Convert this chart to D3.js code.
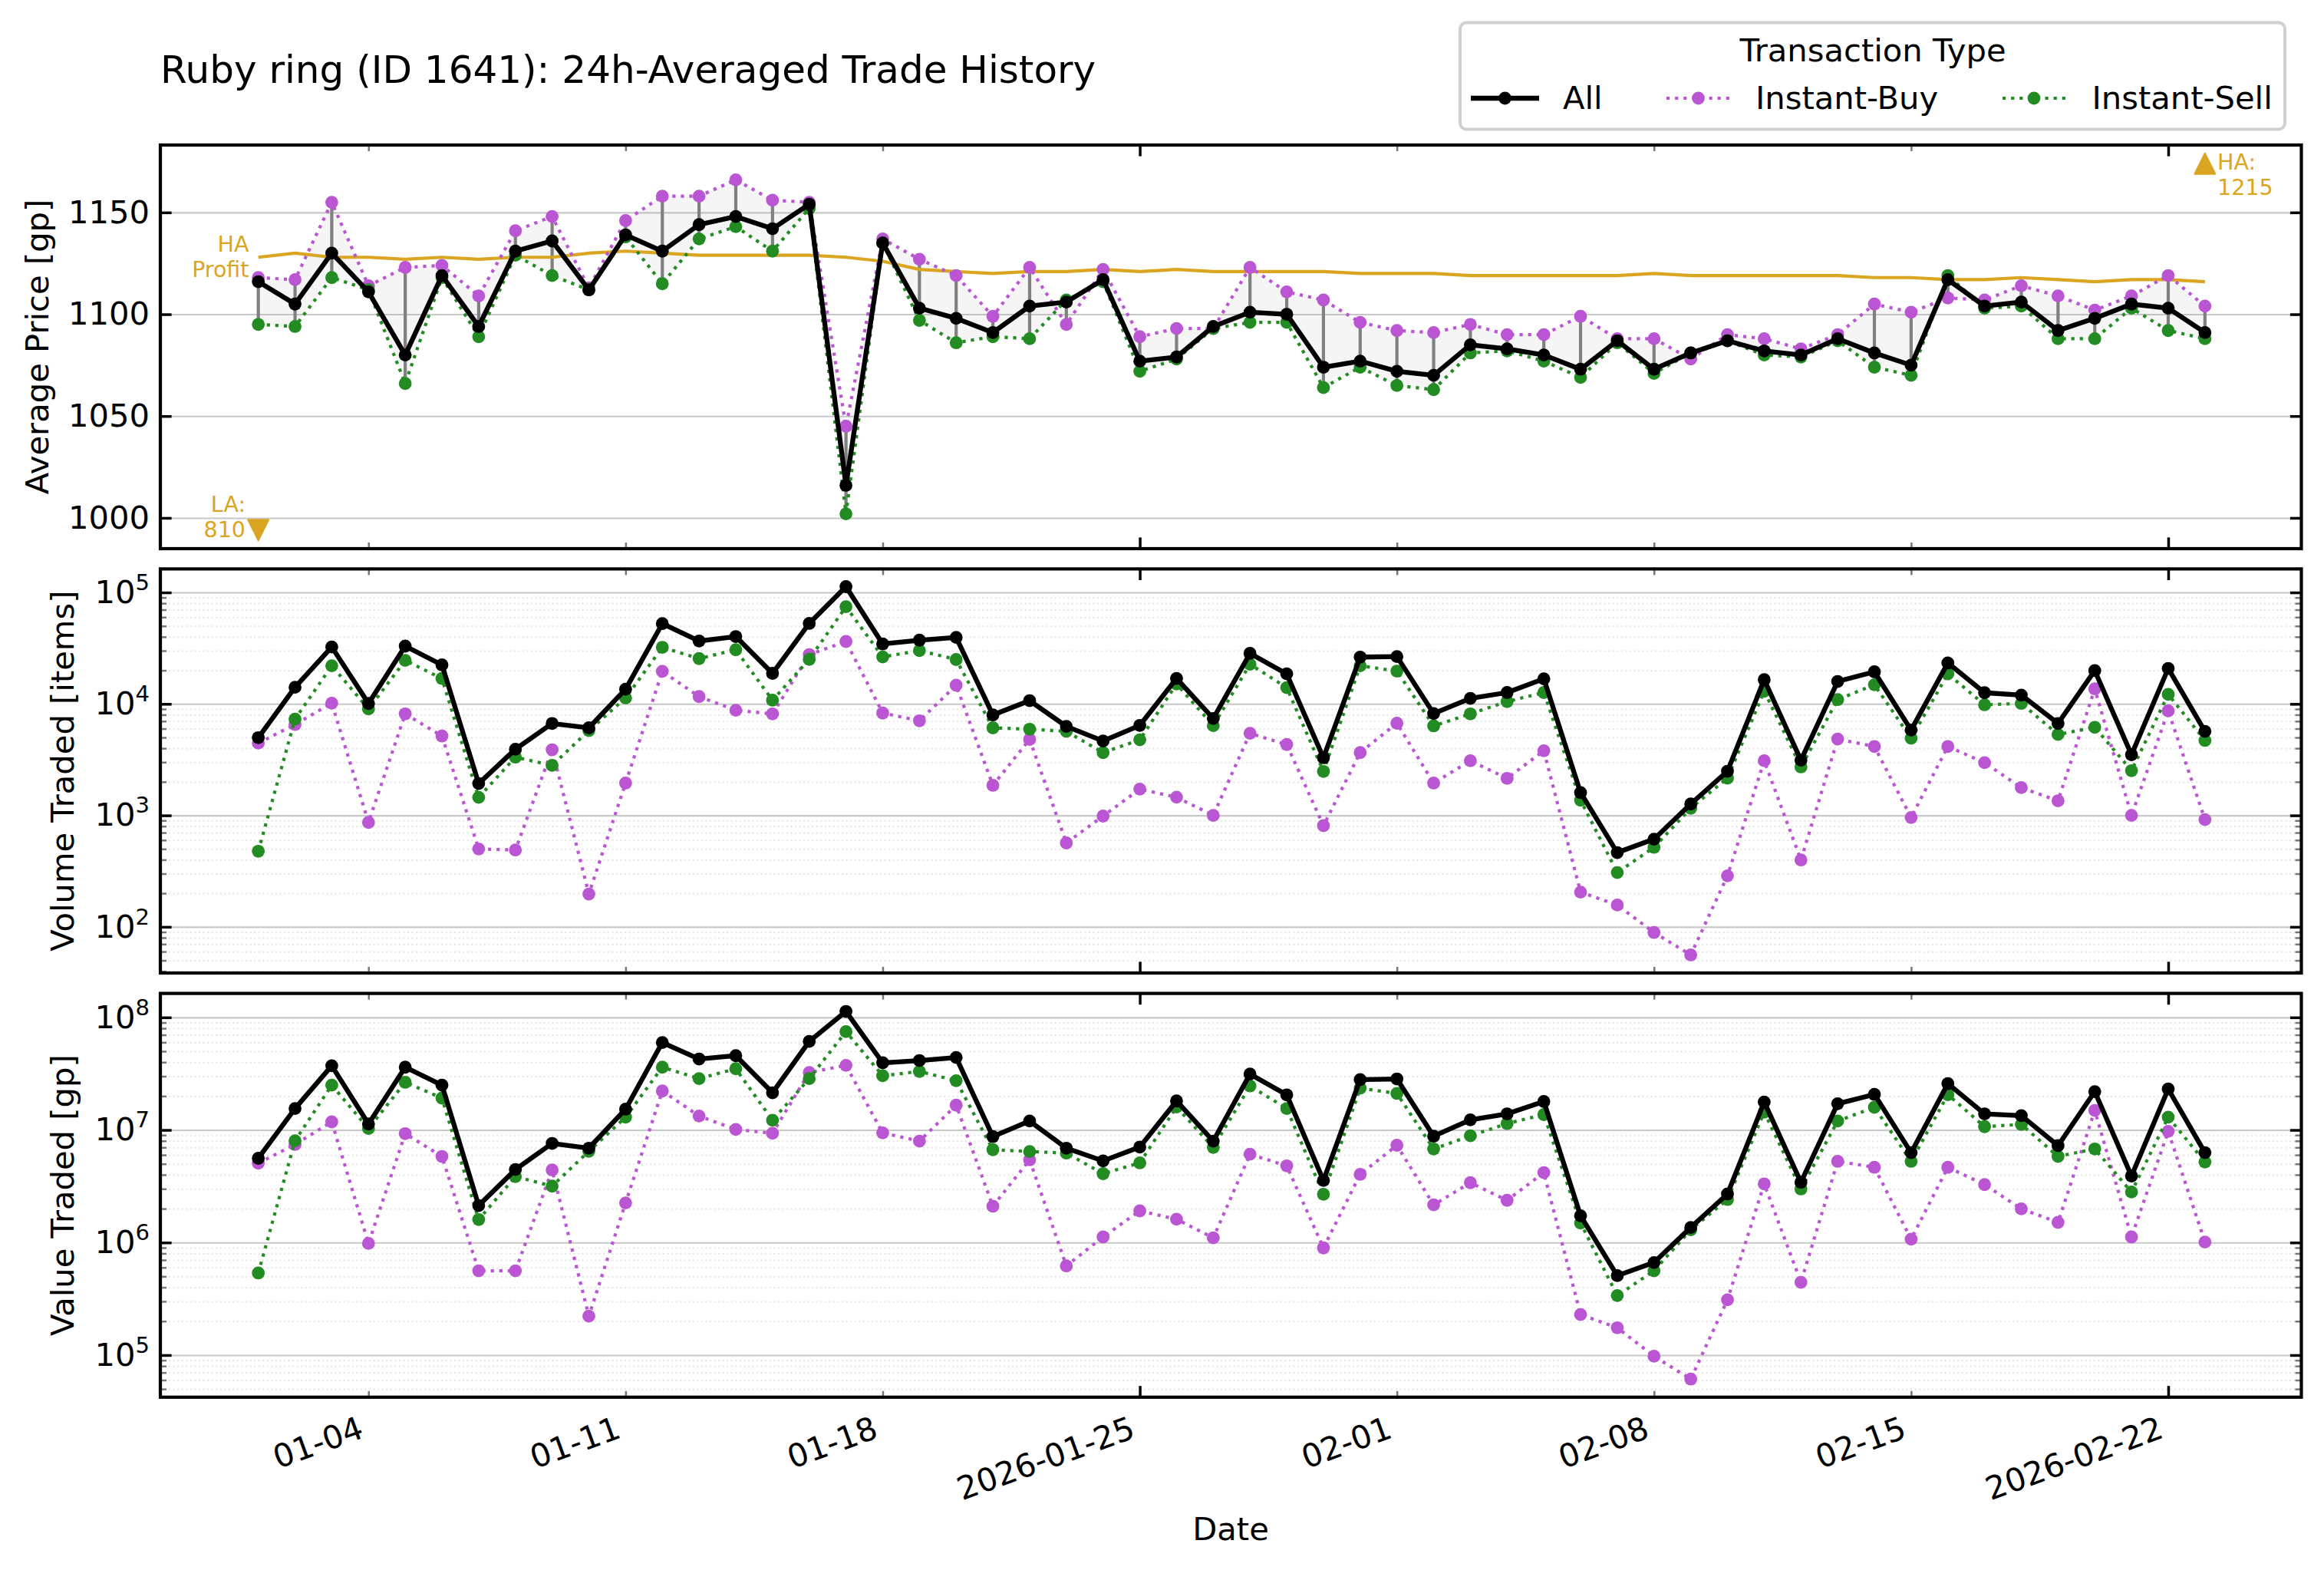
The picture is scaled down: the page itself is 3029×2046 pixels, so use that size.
<!DOCTYPE html>
<html>
<head>
<meta charset="utf-8">
<script src="https://cdn.jsdelivr.net/npm/d3@7"></script>
<style>
  html, body { margin: 0; padding: 0; background: #fff; }
  text { font-family: "DejaVu Sans", sans-serif; fill: #000; }
</style>
</head>
<body>
<svg id="chart" width="3029" height="2046"></svg>
<script>
const startDate = "2026-01-01";
const endDate = "2026-02-23";
const parseDay = d3.utcParse("%Y-%m-%d");

// every value below is one per day, 01-01 to 02-23
const priceAll = [1116,1105,1130,1111,1080,1119,1094,1131,1136,1112,1139,1131,1144,1148,1142,1154,1016,
  1135,1103,1098,1091,1104,1106,1117,1077,1079,1094,1101,1100,1074,1077,1072,1070,1085,1083,1080,
  1073,1087,1073,1081,1087,1082,1080,1088,1081,1075,1117,1104,1106,1092,1098,1105,1103,1091];
const priceBuy = [1118,1117,1155,1114,1123,1124,1109,1141,1148,1113,1146,1158,1158,1166,1156,1155,1045,
  1137,1127,1119,1099,1123,1095,1122,1089,1093,1093,1123,1111,1107,1096,1092,1091,1095,1090,1090,
  1099,1088,1088,1078,1090,1088,1083,1090,1105,1101,1108,1107,1114,1109,1102,1109,1119,1104];
const priceSell = [1095,1094,1118,1112,1066,1118,1089,1129,1119,1112,1138,1115,1137,1143,1131,1152,1002,
  1135,1097,1086,1089,1088,1107,1116,1072,1078,1093,1096,1096,1064,1074,1065,1063,1081,1082,1077,
  1069,1086,1071,1081,1087,1080,1079,1087,1074,1070,1119,1103,1104,1088,1088,1103,1092,1088];
const haProfit = [1128,1130,1128,1128,1127,1128,1127,1128,1128,1130,1131,1130,1129,1129,1129,1129,1128,
  1126,1122,1121,1120,1121,1121,1122,1121,1122,1121,1121,1121,1121,1120,1120,1120,1119,1119,1119,
  1119,1119,1120,1119,1119,1119,1119,1119,1118,1118,1117,1117,1118,1117,1116,1117,1117,1116];

const volumeAll = [4980,14100,32400,10090,33000,22400,1930,3920,6680,6100,13550,52500,36700,40200,18800,52700,112700,
  34500,37300,39500,7960,10700,6280,4650,6420,16900,7400,28400,18600,3290,26300,26600,8190,11200,12650,16800,
  1600,464,612,1265,2490,16500,3130,15900,19400,5830,23300,12600,12000,6680,19900,3500,20800,5670];
const volumeBuy = [4450,6530,10160,865,8140,5150,500,489,3880,197,1950,19600,11640,8770,8140,27700,36300,
  8280,7060,14700,1860,4810,566,986,1720,1455,1000,5450,4320,809,3660,6710,1950,3090,2150,3800,
  205,157,89,56,287,3090,398,4840,4150,957,4150,2970,1775,1352,13650,1000,8660,916];
const volumeSell = [477,7310,22000,9010,24550,16900,1450,3330,2810,5770,11300,32200,25500,30600,10800,25100,74500,
  26400,30100,25000,6100,5930,5670,3660,4760,15100,6380,22700,14000,2480,22000,19700,6350,8140,10500,12650,
  1368,307,517,1160,2160,13000,2720,10930,14850,4920,18600,9820,10100,5320,6170,2520,12170,4700];

const valueAll = [5.6e6,1.55e7,3.72e7,1.13e7,3.61e7,2.5e7,2.13e6,4.45e6,7.6e6,6.89e6,1.53e7,5.98e7,4.27e7,4.57e7,2.14e7,6.12e7,1.13e8,
  3.95e7,4.14e7,4.4e7,8.73e6,1.2e7,6.89e6,5.31e6,7.05e6,1.81e7,7.96e6,3.14e7,2.05e7,3.56e6,2.8e7,2.84e7,8.8e6,1.23e7,1.39e7,1.79e7,
  1.73e6,5.08e5,6.64e5,1.36e6,2.7e6,1.77e7,3.43e6,1.71e7,2.07e7,6.28e6,2.58e7,1.39e7,1.34e7,7.26e6,2.19e7,3.9e6,2.31e7,6.28e6];
const valueBuy = [5.07e6,7.43e6,1.18e7,9.82e5,9.28e6,5.82e6,5.61e5,5.61e5,4.41e6,2.22e5,2.25e6,2.22e7,1.33e7,1.01e7,9.35e6,3.24e7,3.75e7,
  9.42e6,7.96e6,1.66e7,2.1e6,5.43e6,6.2e5,1.12e6,1.91e6,1.61e6,1.1e6,6.09e6,4.8e6,8.96e5,4.03e6,7.31e6,2.16e6,3.4e6,2.37e6,4.18e6,
  2.29e5,1.75e5,9.77e4,6.12e4,3.1e5,3.32e6,4.43e5,5.26e6,4.66e6,1.07e6,4.66e6,3.27e6,1.99e6,1.51e6,1.49e7,1.12e6,9.72e6,1.01e6];
const valueSell = [5.36e5,8.02e6,2.5e7,1.03e7,2.65e7,1.92e7,1.6e6,3.85e6,3.17e6,6.47e6,1.3e7,3.61e7,2.86e7,3.5e7,1.22e7,2.86e7,7.47e7,
  3.03e7,3.31e7,2.74e7,6.68e6,6.43e6,6.23e6,4.09e6,5.1e6,1.6e7,6.99e6,2.46e7,1.55e7,2.68e6,2.35e7,2.11e7,6.78e6,8.87e6,1.14e7,1.37e7,
  1.49e6,3.38e5,5.61e5,1.3e6,2.41e6,1.44e7,2.99e6,1.2e7,1.59e7,5.26e6,2.06e7,1.07e7,1.12e7,5.82e6,6.78e6,2.81e6,1.3e7,5.19e6];

const majorDays = ["2026-01-25", "2026-02-22"];
const minorDays = ["2026-01-04", "2026-01-11", "2026-01-18", "2026-02-01", "2026-02-08", "2026-02-15"];
const priceTicks = [1000, 1050, 1100, 1150];
const volumeTicks = [2, 3, 4, 5];
const valueTicks = [5, 6, 7, 8];
const legendNames = ["All", "Instant-Buy", "Instant-Sell"];
const limitLow = { day: "2026-01-01", value: 994, text: ["LA:", "810"] };
const limitHigh = { day: "2026-02-23", value: 1174, text: ["HA:", "1215"] };

const orchid = "#ba55d3", forest = "#228b22", gold = "#daa520";
const fontBig = 41.67;
const days = d3.utcDay.range(parseDay(startDate), d3.utcDay.offset(parseDay(endDate), 1));

const left = 209, right = 2999.5, plotW = right - left;
const svg = d3.select("#chart");

const x = d3.scaleUtc()
  .domain([d3.utcHour.offset(parseDay(startDate), -63.6), d3.utcHour.offset(parseDay(endDate), 63.6)])
  .range([left, right]);

function minorsFor(yScale) {
  const [lo, hi] = yScale.domain();
  const out = [];
  for (let e = Math.floor(Math.log10(lo)); e <= Math.ceil(Math.log10(hi)); e++) {
    for (let m = 2; m <= 9; m++) {
      const v = m * Math.pow(10, e);
      if (v >= lo && v <= hi) out.push(v);
    }
  }
  return out;
}

function parseDaysList(list) { return list.map(parseDay); }

function styleTicks(sel, color, width) {
  sel.select(".domain").remove();
  sel.selectAll("line").attr("stroke", color).attr("stroke-width", width);
}

// horizontal grid of one panel
function drawGrid(g, y, majors, isLog) {
  g.append("g").attr("transform", `translate(${left},0)`)
    .call(d3.axisLeft(y).tickValues(majors).tickSize(-plotW).tickFormat(""))
    .call(styleTicks, "#c8c8c8", 2.1);
  if (isLog) {
    g.append("g").attr("transform", `translate(${left},0)`)
      .call(d3.axisLeft(y).tickValues(minorsFor(y)).tickSize(-plotW).tickFormat(""))
      .call(styleTicks, "#e6e6e6", 2.1)
      .selectAll("line").attr("stroke-dasharray", "2.1 3.45");
  }
}

// ticks point inward on all four sides
function drawAxes(g, y, top, bottom, majors, isLog) {
  [[bottom, d3.axisBottom], [top, d3.axisTop]].forEach(([pos, axis]) => {
    g.append("g").attr("transform", `translate(0,${pos})`)
      .call(axis(x).tickValues(parseDaysList(minorDays)).tickSize(-8).tickFormat(""))
      .call(styleTicks, "#777777", 2.5);
    g.append("g").attr("transform", `translate(0,${pos})`)
      .call(axis(x).tickValues(parseDaysList(majorDays)).tickSize(-14.6).tickFormat(""))
      .call(styleTicks, "#000", 3.5);
  });
  if (isLog) {
    [[left, d3.axisLeft], [right, d3.axisRight]].forEach(([pos, axis]) => {
      g.append("g").attr("transform", `translate(${pos},0)`)
        .call(axis(y).tickValues(minorsFor(y)).tickSize(-8).tickFormat(""))
        .call(styleTicks, "#777777", 2.5);
    });
  }
  g.append("g").attr("transform", `translate(${right},0)`)
    .call(d3.axisRight(y).tickValues(majors).tickSize(-14.6).tickFormat(""))
    .call(styleTicks, "#000", 3.5);
  const yAxis = g.append("g").attr("transform", `translate(${left},0)`)
    .call(d3.axisLeft(y).tickValues(majors).tickSize(-14.6).tickPadding(14).tickFormat(d3.format("d")));
  styleTicks(yAxis, "#000", 3.5);
  yAxis.selectAll("text").attr("font-size", fontBig);
  if (isLog) {
    yAxis.selectAll("text").each(function (d) {
      const t = d3.select(this).text("");
      t.append("tspan").text("10");
      t.append("tspan").text(Math.round(Math.log10(d))).attr("font-size", 29).attr("dy", -17);
    });
  }
  g.append("rect").attr("x", left).attr("y", top).attr("width", plotW).attr("height", bottom - top)
    .attr("fill", "none").attr("stroke", "#000").attr("stroke-width", 4.2);
}

function drawSeries(g, y, values, color, dotted, clipId) {
  const line = d3.line().x((d, i) => x(days[i])).y(d => y(d));
  const s = g.append("g").attr("clip-path", `url(#${clipId})`);
  s.append("path").attr("d", line(values)).attr("fill", "none").attr("stroke", color)
    .attr("stroke-width", dotted ? 4.2 : 6.3)
    .attr("stroke-dasharray", dotted ? "4.2 6.9" : null)
    .attr("stroke-linejoin", "round");
  s.selectAll("circle").data(values).join("circle")
    .attr("cx", (d, i) => x(days[i])).attr("cy", d => y(d)).attr("r", 8.4).attr("fill", color);
}

function addClip(id, top, bottom) {
  svg.append("clipPath").attr("id", id).append("rect")
    .attr("x", left).attr("y", top).attr("width", plotW).attr("height", bottom - top);
}

function yLabel(text, xPos, top, bottom) {
  svg.append("text").attr("transform", `translate(${xPos},${(top + bottom) / 2}) rotate(-90)`)
    .attr("text-anchor", "middle").attr("font-size", fontBig).text(text);
}

// price panel
{
  const top = 189, bottom = 715;
  const y = d3.scaleLinear().domain([984.9, 1183.1]).range([bottom, top]);
  const g = svg.append("g");
  addClip("clip-price", top, bottom);
  drawGrid(g, y, priceTicks, false);
  const band = d3.area().x((d, i) => x(days[i])).y0((d, i) => y(priceBuy[i])).y1((d, i) => y(priceSell[i]));
  g.append("path").attr("d", band(days)).attr("fill", "#808080").attr("fill-opacity", 0.08);
  g.selectAll(".spread").data(days).join("line").attr("class", "spread")
    .attr("x1", d => x(d)).attr("x2", d => x(d))
    .attr("y1", (d, i) => y(priceBuy[i])).attr("y2", (d, i) => y(priceSell[i]))
    .attr("stroke", "#808080").attr("stroke-width", 4.2);
  const ha = d3.line().x((d, i) => x(days[i])).y(d => y(d));
  g.append("path").attr("d", ha(haProfit)).attr("fill", "none").attr("stroke", gold).attr("stroke-width", 4.2);
  drawSeries(g, y, priceBuy, orchid, true, "clip-price");
  drawSeries(g, y, priceSell, forest, true, "clip-price");
  drawSeries(g, y, priceAll, "#000", false, "clip-price");
  drawAxes(g, y, top, bottom, priceTicks, false);

  // marker triangles as tall as they are wide
  const s = 13.5;
  const triUp = `M0,${-s}L${s},${s}L${-s},${s}Z`, triDown = `M0,${s}L${s},${-s}L${-s},${-s}Z`;
  g.append("path").attr("d", triDown).attr("fill", gold).attr("stroke", gold).attr("stroke-width", 2).attr("stroke-linejoin", "round")
    .attr("transform", `translate(${x(parseDay(limitLow.day))},${y(limitLow.value)})`);
  g.append("path").attr("d", triUp).attr("fill", gold).attr("stroke", gold).attr("stroke-width", 2).attr("stroke-linejoin", "round")
    .attr("transform", `translate(${x(parseDay(limitHigh.day))},${y(limitHigh.value)})`);
  const note = (lines, px, py, anchor) => lines.forEach((t, i) => {
    g.append("text").attr("x", px).attr("y", py + i * 32.6).attr("text-anchor", anchor)
      .attr("font-size", 28.5).style("fill", gold).text(t);
  });
  note(["HA", "Profit"], 324.5, 328, "end");
  note(limitLow.text, 320, 667, "end");
  note(limitHigh.text, 2890, 221, "start");
  yLabel("Average Price [gp]", 63, top, bottom);
}

// volume panel
{
  const top = 741.4, bottom = 1268;
  const y = d3.scaleLog().domain([Math.pow(10, 1.586), Math.pow(10, 5.211)]).range([bottom, top]);
  const g = svg.append("g");
  addClip("clip-volume", top, bottom);
  const ticks = volumeTicks.map(e => Math.pow(10, e));
  drawGrid(g, y, ticks, true);
  drawSeries(g, y, volumeBuy, orchid, true, "clip-volume");
  drawSeries(g, y, volumeSell, forest, true, "clip-volume");
  drawSeries(g, y, volumeAll, "#000", false, "clip-volume");
  drawAxes(g, y, top, bottom, ticks, true);
  yLabel("Volume Traded [items]", 96, top, bottom);
}

// value panel
{
  const top = 1294.6, bottom = 1820.8;
  const y = d3.scaleLog().domain([Math.pow(10, 4.626), Math.pow(10, 8.213)]).range([bottom, top]);
  const g = svg.append("g");
  addClip("clip-value", top, bottom);
  const ticks = valueTicks.map(e => Math.pow(10, e));
  drawGrid(g, y, ticks, true);
  drawSeries(g, y, valueBuy, orchid, true, "clip-value");
  drawSeries(g, y, valueSell, forest, true, "clip-value");
  drawSeries(g, y, valueAll, "#000", false, "clip-value");
  drawAxes(g, y, top, bottom, ticks, true);
  yLabel("Value Traded [gp]", 96, top, bottom);

  // date labels, rotated like the ticks in the picture
  const fmtShort = d3.utcFormat("%m-%d"), fmtLong = d3.utcFormat("%Y-%m-%d");
  const labelled = parseDaysList(minorDays).map(d => [d, fmtShort(d)])
    .concat(parseDaysList(majorDays).map(d => [d, fmtLong(d)]));
  labelled.forEach(([d, t]) => {
    svg.append("text").attr("text-anchor", "end").attr("font-size", fontBig)
      .attr("transform", `translate(${x(d) - 4},${bottom + 52}) rotate(-20)`).text(t);
  });
}

svg.append("text").attr("x", 209).attr("y", 108).attr("font-size", 50)
  .text("Ruby ring (ID 1641): 24h-Averaged Trade History");
svg.append("text").attr("x", 1604).attr("y", 2007).attr("text-anchor", "middle").attr("font-size", fontBig).text("Date");

// legend
const legend = svg.append("g");
legend.append("rect").attr("x", 1903).attr("y", 29.5).attr("width", 1075).attr("height", 139).attr("rx", 8)
  .attr("fill", "#fff").attr("stroke", "#d0d0d0").attr("stroke-width", 4);
legend.append("text").attr("x", 2441).attr("y", 80).attr("text-anchor", "middle").attr("font-size", fontBig).text("Transaction Type");
const legendX = d3.scaleOrdinal().domain(legendNames).range([1917, 2172, 2610]);
const legendW = d3.scaleOrdinal().domain(legendNames).range([89, 83, 82]);
const legendTextX = d3.scaleOrdinal().domain(legendNames).range([2037, 2288, 2726.5]);
const legendColor = d3.scaleOrdinal().domain(legendNames).range(["#000", orchid, forest]);
legendNames.forEach((name, i) => {
  const lx = legendX(name), w = legendW(name);
  legend.append("line").attr("x1", lx).attr("x2", lx + w).attr("y1", 128).attr("y2", 128)
    .attr("stroke", legendColor(name)).attr("stroke-width", i ? 4.2 : 6.3)
    .attr("stroke-dasharray", i ? "4.2 6.9" : null);
  legend.append("circle").attr("cx", lx + w / 2).attr("cy", 128).attr("r", 8.4).attr("fill", legendColor(name));
  legend.append("text").attr("x", legendTextX(name)).attr("y", 142).attr("font-size", fontBig).text(name);
});
</script>
</body>
</html>
